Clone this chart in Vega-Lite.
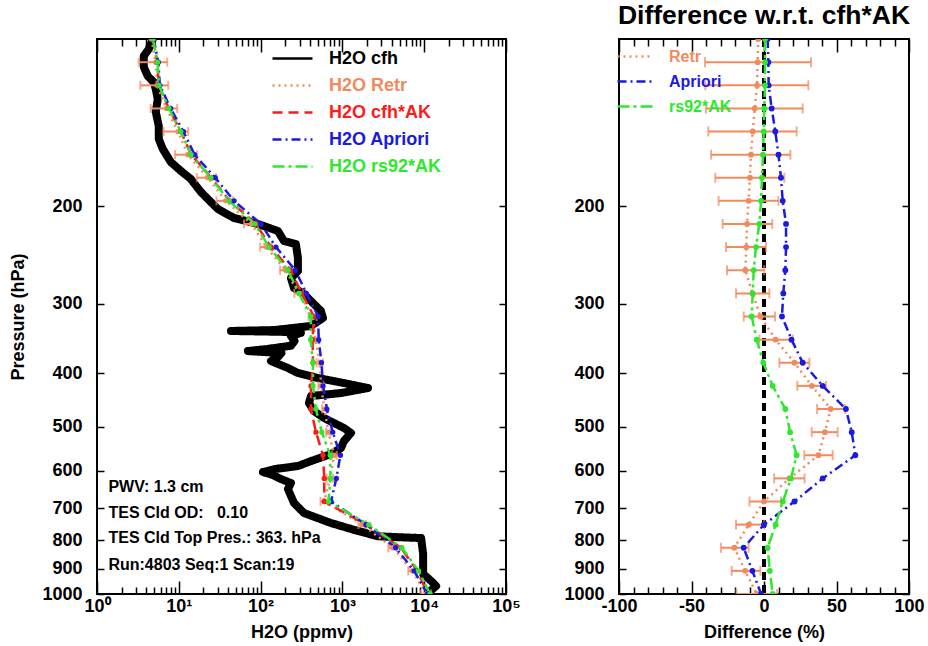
{
  "$schema": "https://vega.github.io/schema/vega-lite/v6.json",
  "background": "white",
  "padding": {"left": 8, "top": 2, "right": 4, "bottom": 4},
  "bounds": "flush",
  "spacing": 113,
  "resolve": {"scale": {"color": "independent", "strokeDash": "independent"}, "legend": {"color": "independent", "strokeDash": "independent"}},
  "config": {
    "font": "Liberation Sans",
    "view": {"stroke": "black", "strokeWidth": 2},
    "axis": {
      "labelFont": "Liberation Sans", "labelFontSize": 18, "labelFontWeight": "bold", "labelColor": "black",
      "titleFont": "Liberation Sans", "titleFontSize": 18, "titleFontWeight": "bold", "titleColor": "black",
      "grid": false, "domain": false, "tickColor": "black", "tickWidth": 1.5
    },
    "legend": {"padding": 0, "titleFontSize": 0}
  },
  "datasets": {
    "L": [
      {"s": "H2O cfh", "p": 100, "v": 4.81}, {"s": "H2O cfh", "p": 104.3, "v": 4.29}, {"s": "H2O cfh", "p": 107.3, "v": 3.73},
      {"s": "H2O cfh", "p": 112.3, "v": 3.73}, {"s": "H2O cfh", "p": 116.6, "v": 4.17}, {"s": "H2O cfh", "p": 119.6, "v": 4.94},
      {"s": "H2O cfh", "p": 123.1, "v": 5.23}, {"s": "H2O cfh", "p": 128.3, "v": 5.53}, {"s": "H2O cfh", "p": 135.3, "v": 5.23},
      {"s": "H2O cfh", "p": 143.5, "v": 5.69}, {"s": "H2O cfh", "p": 151.4, "v": 5.69}, {"s": "H2O cfh", "p": 157.8, "v": 6.37},
      {"s": "H2O cfh", "p": 166.6, "v": 7.98}, {"s": "H2O cfh", "p": 172.9, "v": 10.6}, {"s": "H2O cfh", "p": 178.7, "v": 14.0},
      {"s": "H2O cfh", "p": 188.6, "v": 18.6}, {"s": "H2O cfh", "p": 196.6, "v": 24.6}, {"s": "H2O cfh", "p": 202.4, "v": 30.0},
      {"s": "H2O cfh", "p": 210.1, "v": 47.1}, {"s": "H2O cfh", "p": 215.4, "v": 92.6}, {"s": "H2O cfh", "p": 221.8, "v": 163},
      {"s": "H2O cfh", "p": 231.2, "v": 193}, {"s": "H2O cfh", "p": 234.1, "v": 270}, {"s": "H2O cfh", "p": 248.1, "v": 286},
      {"s": "H2O cfh", "p": 261.8, "v": 286}, {"s": "H2O cfh", "p": 269.6, "v": 235}, {"s": "H2O cfh", "p": 281, "v": 256},
      {"s": "H2O cfh", "p": 288.1, "v": 339}, {"s": "H2O cfh", "p": 296.6, "v": 413}, {"s": "H2O cfh", "p": 309.1, "v": 547},
      {"s": "H2O cfh", "p": 318.2, "v": 579}, {"s": "H2O cfh", "p": 328.9, "v": 413}, {"s": "H2O cfh", "p": 334.5, "v": 150},
      {"s": "H2O cfh", "p": 335.8, "v": 43.4}, {"s": "H2O cfh", "p": 337, "v": 180}, {"s": "H2O cfh", "p": 338.5, "v": 311},
      {"s": "H2O cfh", "p": 343, "v": 235}, {"s": "H2O cfh", "p": 350, "v": 260}, {"s": "H2O cfh", "p": 357, "v": 235},
      {"s": "H2O cfh", "p": 362, "v": 120}, {"s": "H2O cfh", "p": 365, "v": 70}, {"s": "H2O cfh", "p": 368, "v": 180},
      {"s": "H2O cfh", "p": 375, "v": 160}, {"s": "H2O cfh", "p": 380.4, "v": 134}, {"s": "H2O cfh", "p": 391.6, "v": 216},
      {"s": "H2O cfh", "p": 399.8, "v": 286}, {"s": "H2O cfh", "p": 408.2, "v": 503}, {"s": "H2O cfh", "p": 416.8, "v": 1045},
      {"s": "H2O cfh", "p": 425.5, "v": 2056}, {"s": "H2O cfh", "p": 434.4, "v": 962}, {"s": "H2O cfh", "p": 439.9, "v": 413},
      {"s": "H2O cfh", "p": 452.9, "v": 390}, {"s": "H2O cfh", "p": 468.1, "v": 449}, {"s": "H2O cfh", "p": 481.9, "v": 596},
      {"s": "H2O cfh", "p": 502.2, "v": 1045}, {"s": "H2O cfh", "p": 512.8, "v": 1274}, {"s": "H2O cfh", "p": 530.1, "v": 1045},
      {"s": "H2O cfh", "p": 545.7, "v": 962}, {"s": "H2O cfh", "p": 559.5, "v": 726}, {"s": "H2O cfh", "p": 576.1, "v": 413},
      {"s": "H2O cfh", "p": 588.1, "v": 286}, {"s": "H2O cfh", "p": 595.5, "v": 150}, {"s": "H2O cfh", "p": 602.9, "v": 107},
      {"s": "H2O cfh", "p": 610, "v": 140}, {"s": "H2O cfh", "p": 620.6, "v": 177}, {"s": "H2O cfh", "p": 631, "v": 235},
      {"s": "H2O cfh", "p": 647, "v": 216}, {"s": "H2O cfh", "p": 666, "v": 235}, {"s": "H2O cfh", "p": 685.5, "v": 256},
      {"s": "H2O cfh", "p": 714.6, "v": 339}, {"s": "H2O cfh", "p": 745, "v": 726}, {"s": "H2O cfh", "p": 770, "v": 1552},
      {"s": "H2O cfh", "p": 787, "v": 2729}, {"s": "H2O cfh", "p": 790, "v": 4797}, {"s": "H2O cfh", "p": 792.9, "v": 9163},
      {"s": "H2O cfh", "p": 847, "v": 9705}, {"s": "H2O cfh", "p": 920.4, "v": 9705}, {"s": "H2O cfh", "p": 947.5, "v": 12160},
      {"s": "H2O cfh", "p": 967.3, "v": 13990}, {"s": "H2O cfh", "p": 991.7, "v": 11480},

      {"s": "H2O Retr", "p": 1000, "v": 10590, "lo": 9030, "hi": 12150},
      {"s": "H2O Retr", "p": 908.5, "v": 7125, "lo": 6390, "hi": 7945},
      {"s": "H2O Retr", "p": 825.4, "v": 4140, "lo": 3650, "hi": 4640},
      {"s": "H2O Retr", "p": 749.9, "v": 1745, "lo": 1570, "hi": 1950},
      {"s": "H2O Retr", "p": 681.3, "v": 600, "lo": 540, "hi": 670},
      {"s": "H2O Retr", "p": 619, "v": 705, "lo": 642, "hi": 768},
      {"s": "H2O Retr", "p": 562.3, "v": 797, "lo": 742, "hi": 855},
      {"s": "H2O Retr", "p": 510.9, "v": 675, "lo": 632, "hi": 717},
      {"s": "H2O Retr", "p": 464.2, "v": 603, "lo": 564, "hi": 644},
      {"s": "H2O Retr", "p": 421.7, "v": 549, "lo": 508, "hi": 589},
      {"s": "H2O Retr", "p": 383.1, "v": 530, "lo": 484, "hi": 574},
      {"s": "H2O Retr", "p": 348.1, "v": 465, "lo": 418, "hi": 513},
      {"s": "H2O Retr", "p": 316.2, "v": 438, "lo": 386, "hi": 483},
      {"s": "H2O Retr", "p": 287.3, "v": 295, "lo": 258, "hi": 332},
      {"s": "H2O Retr", "p": 261, "v": 202, "lo": 173, "hi": 232},
      {"s": "H2O Retr", "p": 237.1, "v": 118, "lo": 99, "hi": 136},
      {"s": "H2O Retr", "p": 215.4, "v": 77.4, "lo": 62.7, "hi": 92.7},
      {"s": "H2O Retr", "p": 195.7, "v": 37.5, "lo": 28.9, "hi": 46.2},
      {"s": "H2O Retr", "p": 177.8, "v": 22.6, "lo": 16.6, "hi": 28.5},
      {"s": "H2O Retr", "p": 161.6, "v": 12.9, "lo": 9.0, "hi": 16.8},
      {"s": "H2O Retr", "p": 146.8, "v": 9.77, "lo": 6.53, "hi": 13.0},
      {"s": "H2O Retr", "p": 133.4, "v": 7.07, "lo": 4.53, "hi": 9.57},
      {"s": "H2O Retr", "p": 121.2, "v": 5.42, "lo": 3.39, "hi": 7.43},
      {"s": "H2O Retr", "p": 110.1, "v": 5.22, "lo": 3.24, "hi": 7.23},
      {"s": "H2O Retr", "p": 100, "v": 4.62},

      {"s": "H2O cfh*AK", "p": 1000, "v": 11150}, {"s": "H2O cfh*AK", "p": 908.5, "v": 8190}, {"s": "H2O cfh*AK", "p": 825.4, "v": 5210},
      {"s": "H2O cfh*AK", "p": 749.9, "v": 1950}, {"s": "H2O cfh*AK", "p": 681.3, "v": 600}, {"s": "H2O cfh*AK", "p": 619, "v": 600},
      {"s": "H2O cfh*AK", "p": 562.3, "v": 580}, {"s": "H2O cfh*AK", "p": 510.9, "v": 475}, {"s": "H2O cfh*AK", "p": 464.2, "v": 413},
      {"s": "H2O cfh*AK", "p": 421.7, "v": 413}, {"s": "H2O cfh*AK", "p": 383.1, "v": 438}, {"s": "H2O cfh*AK", "p": 348.1, "v": 431},
      {"s": "H2O cfh*AK", "p": 316.2, "v": 449}, {"s": "H2O cfh*AK", "p": 287.3, "v": 320}, {"s": "H2O cfh*AK", "p": 261, "v": 232},
      {"s": "H2O cfh*AK", "p": 237.1, "v": 134}, {"s": "H2O cfh*AK", "p": 215.4, "v": 87.7}, {"s": "H2O cfh*AK", "p": 195.7, "v": 42},
      {"s": "H2O cfh*AK", "p": 177.8, "v": 25}, {"s": "H2O cfh*AK", "p": 161.6, "v": 14.2}, {"s": "H2O cfh*AK", "p": 146.8, "v": 10.6},
      {"s": "H2O cfh*AK", "p": 133.4, "v": 7.55}, {"s": "H2O cfh*AK", "p": 121.2, "v": 5.69}, {"s": "H2O cfh*AK", "p": 110.1, "v": 5.46},
      {"s": "H2O cfh*AK", "p": 100, "v": 4.81},

      {"s": "H2O Apriori", "p": 1000, "v": 10930}, {"s": "H2O Apriori", "p": 908.5, "v": 7535}, {"s": "H2O Apriori", "p": 825.4, "v": 4480},
      {"s": "H2O Apriori", "p": 749.9, "v": 1950}, {"s": "H2O Apriori", "p": 681.3, "v": 726}, {"s": "H2O Apriori", "p": 619, "v": 843},
      {"s": "H2O Apriori", "p": 562.3, "v": 945}, {"s": "H2O Apriori", "p": 510.9, "v": 762}, {"s": "H2O Apriori", "p": 464.2, "v": 646},
      {"s": "H2O Apriori", "p": 421.7, "v": 580}, {"s": "H2O Apriori", "p": 383.1, "v": 555}, {"s": "H2O Apriori", "p": 348.1, "v": 513},
      {"s": "H2O Apriori", "p": 316.2, "v": 505}, {"s": "H2O Apriori", "p": 287.3, "v": 363}, {"s": "H2O Apriori", "p": 261, "v": 266},
      {"s": "H2O Apriori", "p": 237.1, "v": 154}, {"s": "H2O Apriori", "p": 215.4, "v": 101}, {"s": "H2O Apriori", "p": 195.7, "v": 47.4},
      {"s": "H2O Apriori", "p": 177.8, "v": 27.9}, {"s": "H2O Apriori", "p": 161.6, "v": 15.6}, {"s": "H2O Apriori", "p": 146.8, "v": 11.4},
      {"s": "H2O Apriori", "p": 133.4, "v": 7.95}, {"s": "H2O Apriori", "p": 121.2, "v": 5.87}, {"s": "H2O Apriori", "p": 110.1, "v": 5.62},
      {"s": "H2O Apriori", "p": 100, "v": 4.93},

      {"s": "H2O rs92*AK", "p": 1000, "v": 11820}, {"s": "H2O rs92*AK", "p": 908.5, "v": 8520}, {"s": "H2O rs92*AK", "p": 825.4, "v": 5340},
      {"s": "H2O rs92*AK", "p": 749.9, "v": 2105}, {"s": "H2O rs92*AK", "p": 681.3, "v": 678}, {"s": "H2O rs92*AK", "p": 619, "v": 712},
      {"s": "H2O rs92*AK", "p": 562.3, "v": 710}, {"s": "H2O rs92*AK", "p": 510.9, "v": 560}, {"s": "H2O rs92*AK", "p": 464.2, "v": 474},
      {"s": "H2O rs92*AK", "p": 421.7, "v": 438}, {"s": "H2O rs92*AK", "p": 383.1, "v": 436}, {"s": "H2O rs92*AK", "p": 348.1, "v": 409},
      {"s": "H2O rs92*AK", "p": 316.2, "v": 411}, {"s": "H2O rs92*AK", "p": 287.3, "v": 295}, {"s": "H2O rs92*AK", "p": 261, "v": 216},
      {"s": "H2O rs92*AK", "p": 237.1, "v": 127}, {"s": "H2O rs92*AK", "p": 215.4, "v": 84.9}, {"s": "H2O rs92*AK", "p": 195.7, "v": 41.2},
      {"s": "H2O rs92*AK", "p": 177.8, "v": 24.65}, {"s": "H2O rs92*AK", "p": 161.6, "v": 14.1}, {"s": "H2O rs92*AK", "p": 146.8, "v": 10.58},
      {"s": "H2O rs92*AK", "p": 133.4, "v": 7.57}, {"s": "H2O rs92*AK", "p": 121.2, "v": 5.73}, {"s": "H2O rs92*AK", "p": 110.1, "v": 5.5},
      {"s": "H2O rs92*AK", "p": 100, "v": 4.84}
    ],
    "N": [
      {"t": "PWV: 1.3 cm", "x": 1.38, "p": 641},
      {"t": "TES Cld OD:\u00a0\u00a0 0.10", "x": 1.38, "p": 714.6},
      {"t": "TES Cld Top Pres.: 363. hPa", "x": 1.38, "p": 792.9},
      {"t": "Run:4803 Seq:1 Scan:19", "x": 1.38, "p": 886.6}
    ],
    "R": [
      {"s": "Retr", "p": 1000, "d": -5, "lo": -19, "hi": 9},
      {"s": "Retr", "p": 908.5, "d": -13, "lo": -22.3, "hi": -2.5},
      {"s": "Retr", "p": 825.4, "d": -20.5, "lo": -29.7, "hi": -10.6},
      {"s": "Retr", "p": 749.9, "d": -10.5, "lo": -19.3, "hi": 0.2},
      {"s": "Retr", "p": 681.3, "d": 0, "lo": -10, "hi": 11.7},
      {"s": "Retr", "p": 619, "d": 17.5, "lo": 7, "hi": 28},
      {"s": "Retr", "p": 562.3, "d": 37.5, "lo": 27.8, "hi": 47.4},
      {"s": "Retr", "p": 510.9, "d": 42, "lo": 32.9, "hi": 50.8},
      {"s": "Retr", "p": 464.2, "d": 46, "lo": 36.6, "hi": 56},
      {"s": "Retr", "p": 421.7, "d": 33, "lo": 23, "hi": 42.8},
      {"s": "Retr", "p": 383.1, "d": 21, "lo": 10.6, "hi": 31.3},
      {"s": "Retr", "p": 348.1, "d": 8, "lo": -3.2, "hi": 19.8},
      {"s": "Retr", "p": 316.2, "d": -2.5, "lo": -14, "hi": 7.6},
      {"s": "Retr", "p": 287.3, "d": -7.8, "lo": -19.3, "hi": 3.7},
      {"s": "Retr", "p": 261, "d": -12.9, "lo": -25.5, "hi": 0.2},
      {"s": "Retr", "p": 237.1, "d": -12.2, "lo": -26.2, "hi": 1.4},
      {"s": "Retr", "p": 215.4, "d": -11.7, "lo": -28.5, "hi": 5.7},
      {"s": "Retr", "p": 195.7, "d": -10.6, "lo": -31.3, "hi": 10},
      {"s": "Retr", "p": 177.8, "d": -9.7, "lo": -33.6, "hi": 14},
      {"s": "Retr", "p": 161.6, "d": -9, "lo": -36.5, "hi": 18.2},
      {"s": "Retr", "p": 146.8, "d": -7.8, "lo": -38.4, "hi": 22.5},
      {"s": "Retr", "p": 133.4, "d": -6.4, "lo": -40, "hi": 26.7},
      {"s": "Retr", "p": 121.2, "d": -4.8, "lo": -40.5, "hi": 30.6},
      {"s": "Retr", "p": 110.1, "d": -4.4, "lo": -40.7, "hi": 32.4},
      {"s": "Retr", "p": 100, "d": -4},

      {"s": "Apriori", "p": 1000, "d": -2}, {"s": "Apriori", "p": 908.5, "d": -8}, {"s": "Apriori", "p": 825.4, "d": -14},
      {"s": "Apriori", "p": 749.9, "d": 0}, {"s": "Apriori", "p": 681.3, "d": 21}, {"s": "Apriori", "p": 619, "d": 40.5},
      {"s": "Apriori", "p": 562.3, "d": 63}, {"s": "Apriori", "p": 510.9, "d": 60.5}, {"s": "Apriori", "p": 464.2, "d": 56.5},
      {"s": "Apriori", "p": 421.7, "d": 40.5}, {"s": "Apriori", "p": 383.1, "d": 26.7}, {"s": "Apriori", "p": 348.1, "d": 19},
      {"s": "Apriori", "p": 316.2, "d": 12.4}, {"s": "Apriori", "p": 287.3, "d": 13.3}, {"s": "Apriori", "p": 261, "d": 14.7},
      {"s": "Apriori", "p": 237.1, "d": 15.2}, {"s": "Apriori", "p": 215.4, "d": 15.2}, {"s": "Apriori", "p": 195.7, "d": 12.9},
      {"s": "Apriori", "p": 177.8, "d": 11.7}, {"s": "Apriori", "p": 161.6, "d": 10}, {"s": "Apriori", "p": 146.8, "d": 7.8},
      {"s": "Apriori", "p": 133.4, "d": 5.3}, {"s": "Apriori", "p": 121.2, "d": 3.2}, {"s": "Apriori", "p": 110.1, "d": 3},
      {"s": "Apriori", "p": 100, "d": 2.5},

      {"s": "rs92*AK", "p": 1000, "d": 6}, {"s": "rs92*AK", "p": 908.5, "d": 4}, {"s": "rs92*AK", "p": 825.4, "d": 2.5},
      {"s": "rs92*AK", "p": 749.9, "d": 8}, {"s": "rs92*AK", "p": 681.3, "d": 13}, {"s": "rs92*AK", "p": 619, "d": 18.6},
      {"s": "rs92*AK", "p": 562.3, "d": 22.5}, {"s": "rs92*AK", "p": 510.9, "d": 18}, {"s": "rs92*AK", "p": 464.2, "d": 14.7},
      {"s": "rs92*AK", "p": 421.7, "d": 6}, {"s": "rs92*AK", "p": 383.1, "d": -0.5}, {"s": "rs92*AK", "p": 348.1, "d": -5},
      {"s": "rs92*AK", "p": 316.2, "d": -8.5}, {"s": "rs92*AK", "p": 287.3, "d": -7.8}, {"s": "rs92*AK", "p": 261, "d": -7.1},
      {"s": "rs92*AK", "p": 237.1, "d": -5.5}, {"s": "rs92*AK", "p": 215.4, "d": -3.2}, {"s": "rs92*AK", "p": 195.7, "d": -2},
      {"s": "rs92*AK", "p": 177.8, "d": -1.4}, {"s": "rs92*AK", "p": 161.6, "d": -0.7}, {"s": "rs92*AK", "p": 146.8, "d": -0.2},
      {"s": "rs92*AK", "p": 133.4, "d": 0.2}, {"s": "rs92*AK", "p": 121.2, "d": 0.7}, {"s": "rs92*AK", "p": 110.1, "d": 0.7},
      {"s": "rs92*AK", "p": 100, "d": 0.7}
    ]
  },
  "hconcat": [
    {
      "width": 409,
      "height": 555,
      "data": {"name": "L"},
      "resolve": {"axis": {"x": "independent", "y": "independent"}},
      "layer": [
        {
          "transform": [{"filter": "datum.s === 'H2O cfh'"}],
          "mark": {"type": "line", "strokeWidth": 8, "strokeCap": "round", "strokeJoin": "round", "clip": true},
          "encoding": {
            "x": {
              "field": "v", "type": "quantitative",
              "scale": {"type": "log", "domain": [1, 100000], "nice": false},
              "axis": {
                "orient": "bottom", "title": "H2O (ppmv)", "titlePadding": 2,
                "values": [1,2,3,4,5,6,7,8,9,10,20,30,40,50,60,70,80,90,100,200,300,400,500,600,700,800,900,1000,2000,3000,4000,5000,6000,7000,8000,9000,10000,20000,30000,40000,50000,60000,70000,80000,90000,100000],
                "labelExpr": "datum.value === 1 ? '10⁰' : datum.value === 10 ? '10¹' : datum.value === 100 ? '10²' : datum.value === 1000 ? '10³' : datum.value === 10000 ? '10⁴' : datum.value === 100000 ? '10⁵' : ''",
                "labelOverlap": false, "labelFlush": false, "labelPadding": 16,
                "tickSize": {"condition": {"test": "indexof([1,10,100,1000,10000,100000], datum.value) >= 0", "value": -13}, "value": -7}
              }
            },
            "y": {
              "field": "p", "type": "quantitative",
              "scale": {"type": "log", "domain": [100, 1000], "reverse": true, "nice": false},
              "axis": {
                "orient": "left", "title": "Pressure (hPa)", "titlePadding": 14, "format": "d",
                "values": [200,300,400,500,600,700,800,900,1000], "tickSize": -7, "labelPadding": 22, "labelOverlap": false, "labelFlush": false
              }
            },
            "order": {"field": "p"},
            "color": {
              "field": "s", "type": "nominal",
              "scale": {"domain": ["H2O cfh","H2O Retr","H2O cfh*AK","H2O Apriori","H2O rs92*AK"], "range": ["#000000","#F28A60","#FF1A1A","#1A1AE0","#2EE82E"]},
              "legend": {
                "orient": "none", "legendX": 178, "legendY": 2, "title": null, "symbolType": "M-1.25,0H1.25", "symbolSize": 1024,
                "symbolStrokeWidth": 2.5, "labelFontSize": 18, "labelFontWeight": "bold", "labelFont": "Liberation Sans",
                "rowPadding": 0, "labelOffset": 19,
                "labelColor": {"expr": "datum.value === 'H2O Retr' ? '#F28A60' : datum.value === 'H2O cfh*AK' ? '#FF1A1A' : datum.value === 'H2O Apriori' ? '#1A1AE0' : datum.value === 'H2O rs92*AK' ? '#2EE82E' : '#000000'"}
              }
            },
            "strokeDash": {
              "field": "s", "type": "nominal",
              "scale": {"domain": ["H2O cfh","H2O Retr","H2O cfh*AK","H2O Apriori","H2O rs92*AK"], "range": [[1,0],[2,4],[10,6],[9,4,2,4],[12,4,3,4]]},
              "legend": {
                "orient": "none", "legendX": 178, "legendY": 2, "title": null, "symbolType": "M-1.25,0H1.25", "symbolSize": 1024,
                "symbolStrokeWidth": 2.5, "labelFontSize": 18, "labelFontWeight": "bold", "labelFont": "Liberation Sans",
                "rowPadding": 0, "labelOffset": 19,
                "labelColor": {"expr": "datum.value === 'H2O Retr' ? '#F28A60' : datum.value === 'H2O cfh*AK' ? '#FF1A1A' : datum.value === 'H2O Apriori' ? '#1A1AE0' : datum.value === 'H2O rs92*AK' ? '#2EE82E' : '#000000'"}
              }
            }
          }
        },
        {
          "transform": [{"filter": "datum.s === 'H2O Retr' && isValid(datum.lo)"}],
          "mark": {"type": "rule", "color": "#F28A60", "strokeWidth": 2, "clip": true},
          "encoding": {
            "x": {"field": "lo", "type": "quantitative", "axis": null},
            "x2": {"field": "hi"},
            "y": {"field": "p", "type": "quantitative", "axis": null}
          }
        },
        {
          "transform": [{"filter": "datum.s === 'H2O Retr' && isValid(datum.lo)"}],
          "mark": {"type": "tick", "orient": "vertical", "color": "#F28A60", "size": 9, "thickness": 2, "clip": true},
          "encoding": {
            "x": {"field": "lo", "type": "quantitative", "axis": null},
            "y": {"field": "p", "type": "quantitative", "axis": null}
          }
        },
        {
          "transform": [{"filter": "datum.s === 'H2O Retr' && isValid(datum.hi)"}],
          "mark": {"type": "tick", "orient": "vertical", "color": "#F28A60", "size": 9, "thickness": 2, "clip": true},
          "encoding": {
            "x": {"field": "hi", "type": "quantitative", "axis": null},
            "y": {"field": "p", "type": "quantitative", "axis": null}
          }
        },
        {
          "transform": [{"filter": "datum.s !== 'H2O cfh'"}],
          "mark": {"type": "line", "strokeWidth": 2.5, "clip": true},
          "encoding": {
            "x": {
              "field": "v", "type": "quantitative",
              "axis": {
                "orient": "top", "title": null, "labels": false,
                "values": [1,2,3,4,5,6,7,8,9,10,20,30,40,50,60,70,80,90,100,200,300,400,500,600,700,800,900,1000,2000,3000,4000,5000,6000,7000,8000,9000,10000,20000,30000,40000,50000,60000,70000,80000,90000,100000],
                "tickSize": {"condition": {"test": "indexof([1,10,100,1000,10000,100000], datum.value) >= 0", "value": -13}, "value": -7}
              }
            },
            "y": {
              "field": "p", "type": "quantitative",
              "axis": {"orient": "right", "title": null, "labels": false, "values": [200,300,400,500,600,700,800,900,1000], "tickSize": -7}
            },
            "order": {"field": "p"},
            "color": {"field": "s", "type": "nominal"},
            "strokeDash": {"field": "s", "type": "nominal"}
          }
        },
        {
          "transform": [{"filter": "datum.s !== 'H2O cfh'"}],
          "mark": {"type": "circle", "size": 28, "opacity": 1, "clip": true},
          "encoding": {
            "x": {"field": "v", "type": "quantitative", "axis": null},
            "y": {"field": "p", "type": "quantitative", "axis": null},
            "color": {"field": "s", "type": "nominal"}
          }
        },
        {
          "data": {"name": "N"},
          "mark": {"type": "text", "align": "left", "baseline": "middle", "fontSize": 16, "fontWeight": "bold", "font": "Liberation Sans", "color": "black"},
          "encoding": {
            "x": {"field": "x", "type": "quantitative", "axis": null},
            "y": {"field": "p", "type": "quantitative", "axis": null},
            "text": {"field": "t"}
          }
        }
      ]
    },
    {
      "width": 290,
      "height": 555,
      "data": {"name": "R"},
      "title": {"text": "Difference w.r.t. cfh*AK", "fontSize": 26.5, "fontWeight": "bold", "font": "Liberation Sans", "color": "black", "anchor": "middle", "offset": 8},
      "resolve": {"axis": {"x": "independent", "y": "independent"}},
      "layer": [
        {
          "mark": {"type": "rule", "color": "black", "strokeWidth": 2.5, "strokeDash": [8, 5]},
          "encoding": {"x": {"datum": 0, "type": "quantitative", "axis": null}}
        },
        {
          "transform": [{"filter": "datum.s === 'Retr' && isValid(datum.lo)"}],
          "mark": {"type": "rule", "color": "#F28A60", "strokeWidth": 2, "clip": true},
          "encoding": {
            "x": {"field": "lo", "type": "quantitative", "axis": null},
            "x2": {"field": "hi"},
            "y": {"field": "p", "type": "quantitative", "axis": null}
          }
        },
        {
          "transform": [{"filter": "datum.s === 'Retr' && isValid(datum.lo)"}],
          "mark": {"type": "tick", "orient": "vertical", "color": "#F28A60", "size": 10, "thickness": 2, "clip": true},
          "encoding": {
            "x": {"field": "lo", "type": "quantitative", "axis": null},
            "y": {"field": "p", "type": "quantitative", "axis": null}
          }
        },
        {
          "transform": [{"filter": "datum.s === 'Retr' && isValid(datum.hi)"}],
          "mark": {"type": "tick", "orient": "vertical", "color": "#F28A60", "size": 10, "thickness": 2, "clip": true},
          "encoding": {
            "x": {"field": "hi", "type": "quantitative", "axis": null},
            "y": {"field": "p", "type": "quantitative", "axis": null}
          }
        },
        {
          "mark": {"type": "line", "strokeWidth": 2.5, "clip": true},
          "encoding": {
            "x": {
              "field": "d", "type": "quantitative",
              "scale": {"domain": [-100, 100], "nice": false},
              "axis": {
                "orient": "bottom", "title": "Difference (%)", "titlePadding": 2,
                "values": [-100,-90,-80,-70,-60,-50,-40,-30,-20,-10,0,10,20,30,40,50,60,70,80,90,100],
                "labelExpr": "datum.value % 50 === 0 ? '' + datum.value : ''",
                "labelOverlap": false, "labelFlush": false, "labelPadding": 16,
                "tickSize": {"condition": {"test": "datum.value % 50 === 0", "value": -13}, "value": -7}
              }
            },
            "y": {
              "field": "p", "type": "quantitative",
              "scale": {"type": "log", "domain": [100, 1000], "reverse": true, "nice": false},
              "axis": {
                "orient": "left", "title": null, "format": "d",
                "values": [200,300,400,500,600,700,800,900,1000], "tickSize": -7, "labelPadding": 22, "labelOverlap": false, "labelFlush": false
              }
            },
            "order": {"field": "p"},
            "color": {
              "field": "s", "type": "nominal",
              "scale": {"domain": ["Retr","Apriori","rs92*AK"], "range": ["#F28A60","#1A1AE0","#2EE82E"]},
              "legend": {
                "orient": "none", "legendX": 0, "legendY": 1, "title": null, "symbolType": "M-1.2,0H1.2", "symbolSize": 900,
                "symbolStrokeWidth": 2.5, "labelFontSize": 16, "labelFontWeight": "bold", "labelFont": "Liberation Sans",
                "rowPadding": 0, "labelOffset": 17,
                "labelColor": {"expr": "datum.value === 'Retr' ? '#F28A60' : datum.value === 'Apriori' ? '#1A1AE0' : '#2EE82E'"}
              }
            },
            "strokeDash": {
              "field": "s", "type": "nominal",
              "scale": {"domain": ["Retr","Apriori","rs92*AK"], "range": [[2,4],[9,4,2,4],[12,4,3,4]]},
              "legend": {
                "orient": "none", "legendX": 0, "legendY": 1, "title": null, "symbolType": "M-1.2,0H1.2", "symbolSize": 900,
                "symbolStrokeWidth": 2.5, "labelFontSize": 16, "labelFontWeight": "bold", "labelFont": "Liberation Sans",
                "rowPadding": 0, "labelOffset": 17,
                "labelColor": {"expr": "datum.value === 'Retr' ? '#F28A60' : datum.value === 'Apriori' ? '#1A1AE0' : '#2EE82E'"}
              }
            }
          }
        },
        {
          "mark": {"type": "circle", "size": 34, "opacity": 1, "clip": true},
          "encoding": {
            "x": {
              "field": "d", "type": "quantitative",
              "axis": {
                "orient": "top", "title": null, "labels": false,
                "values": [-100,-90,-80,-70,-60,-50,-40,-30,-20,-10,0,10,20,30,40,50,60,70,80,90,100],
                "tickSize": {"condition": {"test": "datum.value % 50 === 0", "value": -13}, "value": -7}
              }
            },
            "y": {
              "field": "p", "type": "quantitative",
              "axis": {"orient": "right", "title": null, "labels": false, "values": [200,300,400,500,600,700,800,900,1000], "tickSize": -7}
            },
            "color": {"field": "s", "type": "nominal"}
          }
        }
      ]
    }
  ]
}
